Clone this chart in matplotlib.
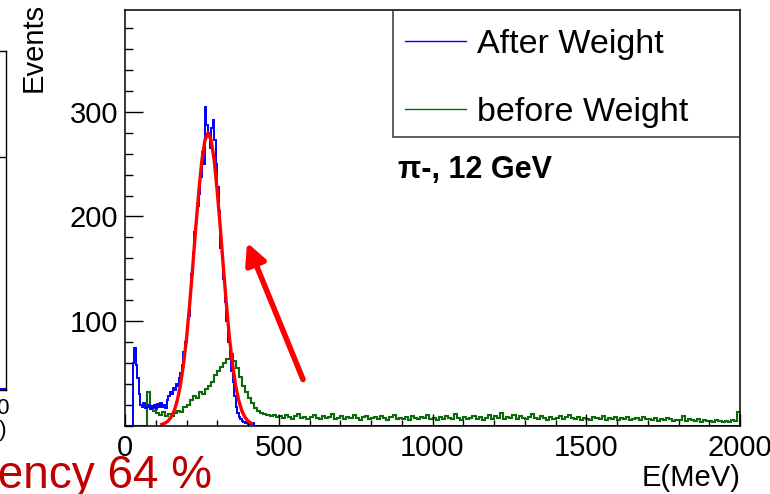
import numpy as np
import matplotlib
matplotlib.use("Agg")
from matplotlib import pyplot as plt
from matplotlib.patches import Rectangle
from matplotlib.ticker import MultipleLocator, FixedLocator

plt.rcParams['font.family'] = ['Liberation Sans', 'DejaVu Sans']

# "After Weight" histogram, 5 MeV bins from 0 to 450 MeV (zero above)
blue_width = 5
blue_counts = [0, 0, 0, 0, 0,
               60, 74, 58, 45, 30,
               20, 18, 22, 17, 18, 20, 16, 19, 17, 20,
               16, 21, 18, 22, 18, 20, 17, 24, 28, 32,
               30, 36, 34, 40, 38, 45, 50, 58, 70, 80,
               92, 105, 125, 145, 165, 185, 195, 210, 222, 238,
               262, 250, 305, 288, 280, 266, 285, 292, 273, 250,
               228, 205, 170, 160, 140, 118, 100, 80, 68, 52,
               42, 28, 18, 12, 8, 6, 4, 3, 2, 3,
               1, 2, 1, 2, 0, 0, 0, 0, 0, 0]

# "before Weight" histogram, 10 MeV bins from 0 to 2000 MeV
green_width = 10
green_counts = [0, 0, 0, 0, 0, 0, 0,
                32, 16, 14, 12, 10, 13, 9, 11, 9, 12, 14, 13, 18,
                20, 24, 28, 26, 32, 30, 35, 38, 42, 48,
                52, 56, 60, 64, 68, 62, 55, 46, 38, 32,
                26, 22, 17, 14, 12, 11, 10, 9, 10, 8,
                9, 7, 10, 8, 6, 9, 11, 7, 8, 6,
                8, 10, 7, 6, 9, 7, 8, 11, 6, 7,
                9, 6, 8, 7, 10, 7, 5, 8, 9, 6,
                7, 8, 6, 9, 7, 5, 8, 10, 6, 7,
                6, 8, 5, 9, 7, 6, 8, 7, 10, 6,
                7, 5, 8, 6, 9, 7, 6, 11, 7, 5,
                8, 6, 7, 9, 6, 8, 5, 7, 10, 6,
                9, 7, 12, 6, 8, 7, 10, 6, 9, 7,
                6, 8, 11, 7, 6, 9, 7, 5, 8, 6,
                7, 9, 6, 8, 10, 7, 6, 8, 5, 7,
                6, 5, 8, 7, 6, 9, 5, 7, 6, 8,
                5, 7, 6, 8, 5, 6, 7, 5, 8, 6,
                6, 5, 7, 4, 6, 5, 7, 6, 4, 5,
                5, 9, 4, 6, 5, 4, 6, 3, 5, 4,
                4, 3, 5, 4, 3, 4, 3, 5, 4, 13]

# gaussian fit curve
fit_e = [120, 130, 140, 150, 160, 170, 180, 190, 200, 210, 220, 230, 240, 250,
         260, 270, 280, 290, 300, 310, 320, 330, 340, 350, 360, 370, 380, 390,
         400, 410]
fit_y = [1.1, 2.2, 4.3, 8, 14, 24, 38, 58, 83, 115, 151, 189, 224, 254,
         273, 280, 273, 254, 224, 189, 151, 115, 83, 58, 38, 24, 14, 8,
         4.3, 2.2]

x_max = 2000
y_max = 397.6

fig = plt.figure(figsize=(7.7, 4.94), dpi=100)

# piece of the neighbouring panel, cut by the left edge
axl = fig.add_axes([-0.3, 104 / 494, 0.3 + 6 / 770, 339 / 494])
axl.set_xticks([])
axl.set_yticks([])
for s in axl.spines.values():
    s.set_linewidth(1.0)
axl.axhline(0.687, color='black', lw=1.0)
axl.axhline(0.004, color='blue', lw=1.5)
fig.text(10 / 770, 1 - 408 / 494, '2000', ha='right', va='center', fontsize=16)
fig.text(7 / 770, 1 - 430 / 494, 'E(MeV)', ha='right', va='center', fontsize=16)

ax = fig.add_axes([125 / 770, 68.5 / 494, 615 / 770, 415.5 / 494])

blue_edges = np.arange(len(blue_counts) + 1) * blue_width
green_edges = np.arange(len(green_counts) + 1) * green_width

ax.stairs(green_counts, green_edges, color='#0b6b0b', lw=1.5, label='before Weight')
ax.stairs(blue_counts, blue_edges, color='#0000ff', lw=1.4, label='After Weight')
ax.plot([blue_edges[-1], x_max], [0, 0], color='#1a1a80', lw=1.4)
ax.plot(fit_e, fit_y, color='#ff0000', lw=2.4)

ax.annotate('', xy=(397, 175), xytext=(579, 44),
            arrowprops=dict(arrowstyle='-|>,head_length=0.7,head_width=0.35',
                            color='#ff0000', lw=4, mutation_scale=18,
                            shrinkA=0, shrinkB=0))

ax.set_xlim(0, x_max)
ax.set_ylim(0, y_max)

ax.xaxis.set_major_locator(MultipleLocator(500))
ax.xaxis.set_minor_locator(MultipleLocator(100))
ax.yaxis.set_major_locator(FixedLocator([100, 200, 300]))
ax.yaxis.set_minor_locator(MultipleLocator(20))
ax.tick_params(which='both', direction='in', top=False, right=False,
               labelsize=21, width=1.0, colors='black')
ax.tick_params(axis='y', which='major', length=13, pad=5)
ax.tick_params(axis='y', which='minor', length=6)
ax.tick_params(axis='x', which='major', length=9, pad=6)
ax.tick_params(axis='x', which='minor', length=4.5)
for s in ax.spines.values():
    s.set_linewidth(1.1)

# legend box (ROOT style), frame drawn separately
ax.add_patch(Rectangle((0.436, 0.694), 0.564, 0.306, transform=ax.transAxes,
                       fill=False, edgecolor='#333333', lw=1.1, zorder=5))
h, l = ax.get_legend_handles_labels()
leg = ax.legend(h[::-1], l[::-1], loc='upper left',
                bbox_to_anchor=(0.4553, 0.954), borderaxespad=0, borderpad=0,
                fontsize=24.5, frameon=False, handlelength=1.8,
                handletextpad=0.33, labelspacing=1.09)
for line in leg.get_lines():
    line.set_linewidth(1.0)

ax.text(0.444, 0.615, '\u03c0-, 12 GeV', transform=ax.transAxes,
        fontsize=22, fontweight='bold', ha='left', va='center')

fig.text(34 / 770, 1 - 3 / 494, 'Events', rotation=90, ha='center', va='top',
         fontsize=21)
fig.text(740 / 770, 1 - 478 / 494, 'E(MeV)', ha='right', va='center', fontsize=21)
fig.text(212 / 770, 1 - 488 / 494, 'Efficiency 64 %', ha='right', va='baseline',
         fontsize=33, color='#c00000')

fig.savefig('out.png', dpi=100)
